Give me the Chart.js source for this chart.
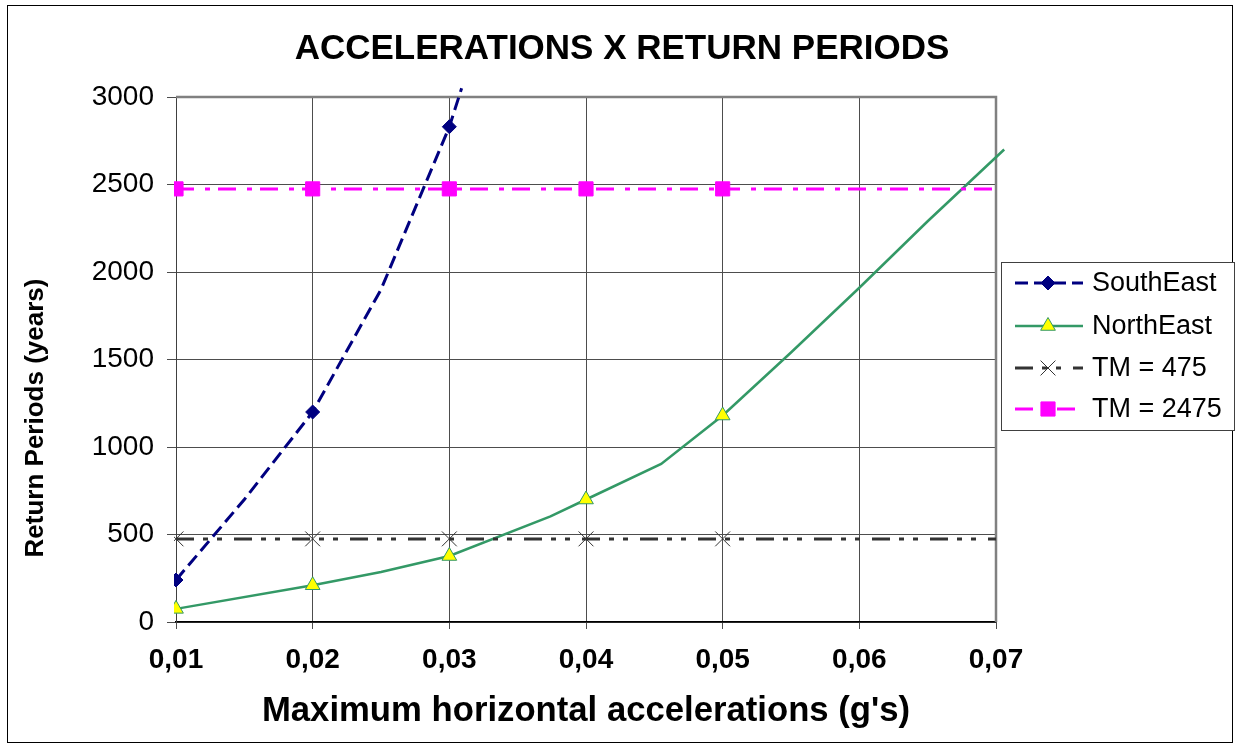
<!DOCTYPE html>
<html>
<head>
<meta charset="utf-8">
<title>Accelerations x Return Periods</title>
<script src="https://cdn.jsdelivr.net/npm/chart.js@4/dist/chart.umd.min.js"></script>
<style>
  html, body { margin: 0; padding: 0; background: #ffffff; }
  canvas { display: block; }
</style>
</head>
<body>
<canvas id="chart" width="1236" height="747"></canvas>
<script>
// ---- data ----------------------------------------------------------------
const xTickValues = [0.01, 0.02, 0.03, 0.04, 0.05, 0.06, 0.07];
const xTickLabels = ['0,01', '0,02', '0,03', '0,04', '0,05', '0,06', '0,07'];
const yTickValues = [0, 500, 1000, 1500, 2000, 2500, 3000];

// accelerations that carry a visible marker
const markerX = [0.01, 0.02, 0.03, 0.04, 0.05];

const southEastX = [0.01, 0.015, 0.02, 0.025, 0.03, 0.0309];
const southEastY = [240, 700, 1200, 1900, 2830, 3050];

const northEastX = [0.01, 0.02, 0.025, 0.03, 0.0374, 0.04, 0.0455, 0.05, 0.055, 0.06, 0.065, 0.0706];
const northEastY = [75, 210, 286, 377, 603, 700, 903, 1180, 1540, 1910, 2290, 2700];

const tmX = [0.01, 0.02, 0.03, 0.04, 0.05, 0.06, 0.07];
const tm475Y = [475, 475, 475, 475, 475, 475, 475];
const tm2475Y = [2475, 2475, 2475, 2475, 2475, 2475, 2475];

const chartTitle = 'ACCELERATIONS X RETURN PERIODS';
const xTitle = "Maximum horizontal accelerations (g's)";
const yTitle = 'Return Periods (years)';

// ---- styling -------------------------------------------------------------
const FONT = '"Liberation Sans", Arial, Helvetica, sans-serif';

const seriesStyles = [
  { label: 'SouthEast', xs: southEastX, ys: southEastY, line: '#000080', fill: '#000080', edge: '#000080',
    width: 3, dash: [13, 6], shape: 'rectRot', r: 7, order: 4 },
  { label: 'NorthEast', xs: northEastX, ys: northEastY, line: '#339966', fill: '#ffff00', edge: '#339966',
    width: 2.5, dash: [], shape: 'triangle', r: 8.5, order: 3 },
  { label: 'TM = 475', xs: tmX, ys: tm475Y, line: '#333333', fill: 'rgba(0,0,0,0)', edge: '#333333',
    width: 3, dash: [18, 9, 5, 9, 5, 12], shape: 'crossRot', r: 10.5, order: 2 },
  { label: 'TM = 2475', xs: tmX, ys: tm2475Y, line: '#ff00ff', fill: '#ff00ff', edge: '#ff00ff',
    width: 3, dash: [18, 11, 5, 8], shape: 'rect', r: 10, order: 1 }
];

function hasMarker(x) {
  return markerX.some(m => Math.abs(m - x) < 1e-9);
}

const datasets = seriesStyles.map(s => ({
  label: s.label,
  data: s.xs.map((x, i) => ({ x: x, y: s.ys[i] })),
  borderColor: s.line,
  borderWidth: s.width,
  borderDash: s.dash,
  backgroundColor: s.fill,
  pointStyle: s.shape,
  pointBackgroundColor: s.fill,
  pointBorderColor: s.edge,
  pointBorderWidth: 1,
  pointRadius: ctx => (ctx.raw && hasMarker(ctx.raw.x)) ? s.r : 0,
  tension: 0,
  fill: false,
  order: s.order,
  clip: { left: 2, top: 12, right: 10, bottom: 2 }
}));

// ---- plugins -------------------------------------------------------------
const framePlugin = {
  id: 'frame',
  beforeDraw(chart) {
    const ctx = chart.ctx;
    ctx.save();
    ctx.fillStyle = '#ffffff';
    ctx.fillRect(0, 0, chart.width, chart.height);
    ctx.strokeStyle = '#000000';
    ctx.lineWidth = 1;
    ctx.strokeRect(7.5, 5.5, 1225, 737);

    // main heading, centred on the whole frame
    ctx.font = 'bold 35px ' + FONT;
    ctx.fillStyle = '#000000';
    ctx.textAlign = 'center';
    ctx.textBaseline = 'middle';
    ctx.fillText(chartTitle, 622, 49);
    ctx.restore();
  }
};

const plotBorderPlugin = {
  id: 'plotBorder',
  beforeDatasetsDraw(chart) {
    const { ctx, chartArea: a } = chart;
    ctx.save();
    ctx.strokeStyle = '#808080';
    ctx.lineWidth = 2.5;
    ctx.beginPath();
    ctx.moveTo(a.left, a.top);
    ctx.lineTo(a.right, a.top);
    ctx.lineTo(a.right, a.bottom);
    ctx.stroke();
    ctx.restore();
  }
};

const sideTextPlugin = {
  id: 'sideText',
  afterDraw(chart) {
    const ctx = chart.ctx;
    ctx.save();

    // vertical axis title
    ctx.translate(36, 418);
    ctx.rotate(-Math.PI / 2);
    ctx.font = 'bold 26px ' + FONT;
    ctx.fillStyle = '#000000';
    ctx.textAlign = 'center';
    ctx.textBaseline = 'middle';
    ctx.fillText(yTitle, 0, 0);
    ctx.restore();

    // legend box
    ctx.save();
    ctx.fillStyle = '#ffffff';
    ctx.fillRect(1001, 262, 234, 169);
    ctx.strokeStyle = '#404040';
    ctx.lineWidth = 1;
    ctx.strokeRect(1001.5, 262.5, 233, 168);

    const rows = [283, 326, 368, 409];
    seriesStyles.forEach((s, i) => {
      const y = rows[i];
      ctx.save();
      ctx.strokeStyle = s.line;
      ctx.lineWidth = s.width;
      ctx.setLineDash(s.dash);
      ctx.beginPath();
      ctx.moveTo(1015, y);
      ctx.lineTo(1083, y);
      ctx.stroke();
      ctx.restore();

      ctx.save();
      ctx.fillStyle = s.fill;
      ctx.strokeStyle = s.edge;
      ctx.lineWidth = 1;
      ctx.setLineDash([]);
      Chart.helpers.drawPoint(ctx, { pointStyle: s.shape, radius: s.r, rotation: 0, borderWidth: 1 }, 1048, y);
      ctx.restore();

      ctx.font = '27px ' + FONT;
      ctx.fillStyle = '#000000';
      ctx.textAlign = 'left';
      ctx.textBaseline = 'middle';
      ctx.fillText(s.label, 1092, y + 1);
    });
    ctx.restore();
  }
};

// ---- chart ---------------------------------------------------------------
new Chart(document.getElementById('chart'), {
  type: 'line',
  data: { datasets: datasets },
  plugins: [framePlugin, plotBorderPlugin, sideTextPlugin],
  options: {
    responsive: false,
    animation: false,
    events: [],
    layout: { padding: { left: 0, right: 240, top: 97, bottom: 0 } },
    plugins: {
      legend: { display: false },
      tooltip: { enabled: false },
      title: { display: false }
    },
    scales: {
      x: {
        type: 'linear',
        min: 0.01,
        max: 0.07,
        afterBuildTicks: s => { s.ticks = xTickValues.map(v => ({ value: v })); },
        ticks: {
          callback: v => {
            const i = xTickValues.findIndex(t => Math.abs(t - v) < 1e-9);
            return i >= 0 ? xTickLabels[i] : '';
          },
          color: '#000000',
          font: { family: FONT, size: 28, weight: 'bold' },
          padding: 14,
          maxRotation: 0,
          autoSkip: false
        },
        grid: { color: '#4d4d4d', lineWidth: 1, tickLength: 7 },
        border: { color: '#000000', width: 1.5 },
        title: {
          display: true,
          text: xTitle,
          color: '#000000',
          font: { family: FONT, size: 34.7, weight: 'bold' },
          padding: { top: 0, bottom: 15 }
        },
        afterFit: s => { s.height = 125; s.paddingLeft = 0; s.paddingRight = 0; }
      },
      y: {
        type: 'linear',
        min: 0,
        max: 3000,
        afterBuildTicks: s => { s.ticks = yTickValues.map(v => ({ value: v })); },
        ticks: {
          callback: v => String(v),
          color: '#000000',
          font: { family: FONT, size: 28 },
          padding: 13
        },
        grid: { color: '#4d4d4d', lineWidth: 1, tickLength: 9 },
        border: { color: '#404040', width: 1 },
        afterFit: s => { s.width = 176; s.paddingTop = 0; s.paddingBottom = 0; }
      }
    }
  }
});
</script>
</body>
</html>
